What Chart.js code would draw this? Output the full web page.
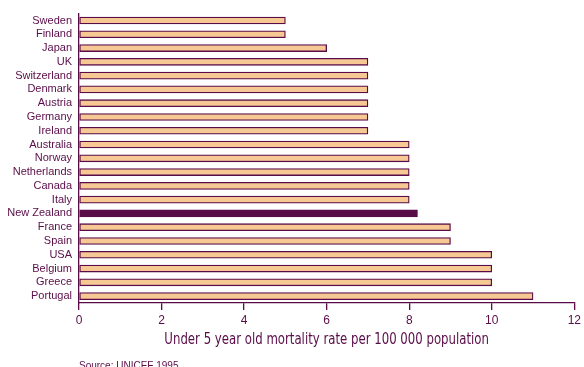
<!DOCTYPE html>
<html>
<head>
<meta charset="utf-8">
<script src="https://cdn.jsdelivr.net/npm/chart.js@4/dist/chart.umd.min.js"></script>
<style>
  html, body { margin: 0; padding: 0; background: #ffffff; }
  #wrap { width: 584px; height: 367px; position: relative; }
</style>
</head>
<body>
<div id="wrap"><canvas id="c" width="584" height="367"></canvas></div>
<script>
// Under-5 mortality by country (UNICEF 1995)
const countries = [
  "Sweden", "Finland", "Japan", "UK", "Switzerland", "Denmark", "Austria",
  "Germany", "Ireland", "Australia", "Norway", "Netherlands", "Canada", "Italy",
  "New Zealand", "France", "Spain", "USA", "Belgium", "Greece", "Portugal"
];
const mortalityRates = [5, 5, 6, 7, 7, 7, 7, 7, 7, 8, 8, 8, 8, 8, 8.2, 9, 9, 10, 10, 10, 11];
const highlightCountry = "New Zealand";
const xTicks = [0, 2, 4, 6, 8, 10, 12];
const axisTitle = "Under 5 year old mortality rate per 100 000 population";
const sourceNote = "Source: UNICEF 1995";

const PURPLE = "#5a0c48";
const FILL = "#f6c893";

const fills = countries.map(c => c === highlightCountry ? PURPLE : FILL);

// Condensed axis title and source line, drawn under the x axis
const captionPlugin = {
  id: "captions",
  afterDraw(chart) {
    const ctx = chart.ctx;
    const area = chart.chartArea;
    ctx.save();
    ctx.fillStyle = PURPLE;
    ctx.textBaseline = "middle";
    ctx.textAlign = "center";
    ctx.font = "15px 'DejaVu Sans Condensed', sans-serif";
    const cx = (area.left + area.right) / 2;
    ctx.translate(cx, 340);
    ctx.scale(0.87, 1);
    ctx.fillText(axisTitle, 0, 0);
    ctx.restore();

    ctx.save();
    ctx.font = "10px 'Liberation Sans', Arial, sans-serif";
    ctx.fillStyle = PURPLE;
    ctx.textAlign = "left";
    ctx.textBaseline = "alphabetic";
    ctx.fillText(sourceNote, area.left, 369);
    ctx.restore();
  }
};

new Chart(document.getElementById("c"), {
  type: "bar",
  data: {
    labels: countries,
    datasets: [{
      data: mortalityRates,
      backgroundColor: fills,
      borderColor: PURPLE,
      borderWidth: 1.3,
      borderSkipped: false,
      barThickness: 7
    }]
  },
  options: {
    indexAxis: "y",
    responsive: false,
    animation: false,
    layout: { padding: { top: 13, right: 8, bottom: 14, left: 0 } },
    plugins: { legend: { display: false }, tooltip: { enabled: false } },
    scales: {
      x: {
        min: 0, max: 12,
        afterBuildTicks(scale) { scale.ticks = xTicks.map(v => ({ value: v })); },
        afterFit(scale) { scale.height = 50; },
        grid: { display: true, drawOnChartArea: false, drawTicks: true, tickLength: 7, color: PURPLE, lineWidth: 1.3 },
        border: { display: true, color: PURPLE, width: 1.3 },
        ticks: { color: PURPLE, font: { family: "'Liberation Sans', Arial, sans-serif", size: 12 }, padding: 3, maxRotation: 0 }
      },
      y: {
        afterFit(scale) { scale.width = 79; },
        grid: { display: false, drawTicks: false },
        border: { display: true, color: PURPLE, width: 1.3 },
        ticks: { color: PURPLE, font: { family: "'Liberation Sans', Arial, sans-serif", size: 11 }, padding: 7, autoSkip: false }
      }
    }
  },
  plugins: [captionPlugin]
});
</script>
</body>
</html>
